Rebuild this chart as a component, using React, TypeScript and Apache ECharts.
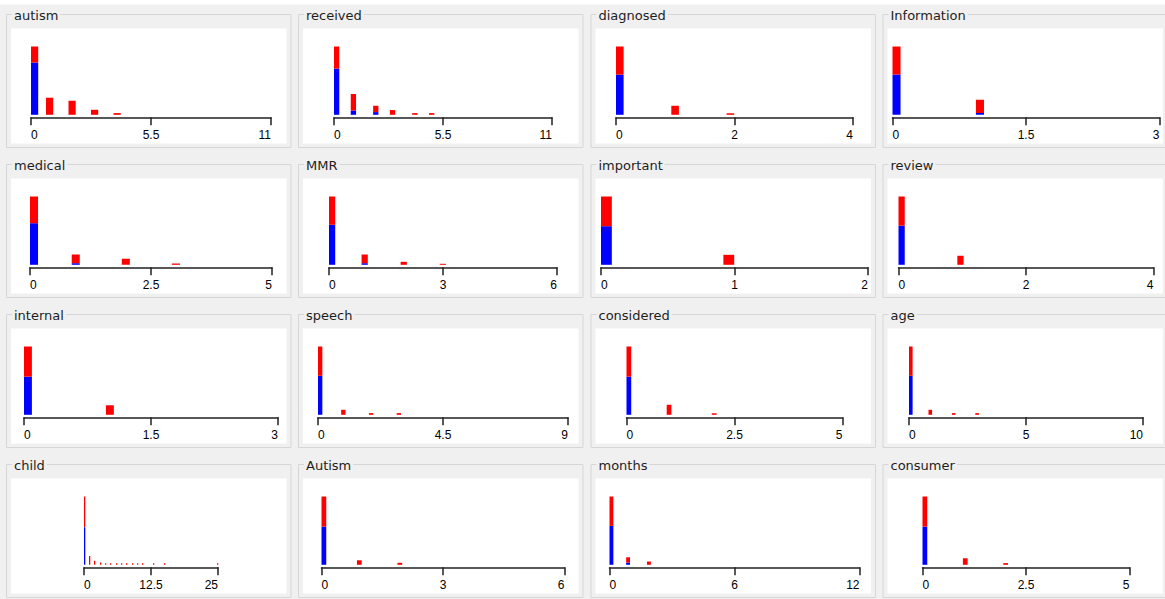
import React, { useEffect, useRef } from "react";
import * as echarts from "echarts";

// ---------- data (attribute histograms, counts per class: blue / red) ----------
const attributeNames = [
  "autism", "received", "diagnosed", "Information",
  "medical", "MMR", "important", "review",
  "internal", "speech", "considered", "age",
  "child", "Autism", "months", "consumer",
];
const axisMaxima = [11, 11, 4, 3, 5, 6, 2, 4, 3, 9, 5, 10, 25, 6, 12, 5];
const histogramBins = [32, 39, 30, 32, 29, 35, 24, 39, 31, 54, 43, 60, 134, 48, 60, 41];

const autismX = [0, 1, 2, 3, 4];
const autismBlue = [52, 0, 0, 0, 0];
const autismRed = [16, 17, 14, 5, 1.7];

const receivedX = [0, 1, 2, 3, 4, 5];
const receivedBlue = [46, 4.3, 2.7, 0, 0, 0];
const receivedRed = [22, 16.4, 6.3, 4.7, 1.7, 1.7];

const diagnosedX = [0, 1, 2];
const diagnosedBlue = [40, 0, 0];
const diagnosedRed = [28, 9, 1.5];

const informationX = [0, 1];
const informationBlue = [40, 1.7];
const informationRed = [28, 13.3];

const medicalX = [0, 1, 2, 3];
const medicalBlue = [41.6, 1.6, 0, 0];
const medicalRed = [26.7, 8.7, 6, 1.3];

const mmrX = [0, 1, 2, 3];
const mmrBlue = [40, 1.6, 0, 0];
const mmrRed = [28.3, 8.7, 3, 1];

const importantX = [0, 1];
const importantBlue = [38.6, 0];
const importantRed = [29.7, 10];

const reviewX = [0, 1];
const reviewBlue = [39, 0];
const reviewRed = [29, 9];

const internalX = [0, 1];
const internalBlue = [38, 0];
const internalRed = [30, 9.5];

const speechX = [0, 1, 2, 3];
const speechBlue = [39, 0, 0, 0];
const speechRed = [29.3, 5, 1.7, 1.7];

const consideredX = [0, 1, 2];
const consideredBlue = [38, 0, 0];
const consideredRed = [30, 10, 1.5];

const ageX = [0, 1, 2, 3];
const ageBlue = [39, 0, 0, 0];
const ageRed = [29.3, 5, 1.7, 1.7];

const childX = [0, 1, 2, 3, 4, 5, 6, 7, 8, 9, 10, 11, 13, 15, 25];
const childBlue = [38, 0, 0, 0, 0, 0, 0, 0, 0, 0, 0, 0, 0, 0, 0];
const childRed = [31, 9, 4, 2.3, 1.5, 1.5, 1.5, 1.5, 1.5, 1.5, 1.5, 1.5, 1.5, 1.5, 1.5];

const autismCapX = [0, 1, 2];
const autismCapBlue = [38, 0, 0];
const autismCapRed = [30, 4.5, 2];

const monthsX = [0, 1, 2];
const monthsBlue = [39.3, 2.3, 0];
const monthsRed = [29.7, 5.3, 3.3];

const consumerX = [0, 1, 2];
const consumerBlue = [38, 0, 0];
const consumerRed = [30, 6.5, 1.7];

const panelValues = [
  [autismX, autismBlue, autismRed],
  [receivedX, receivedBlue, receivedRed],
  [diagnosedX, diagnosedBlue, diagnosedRed],
  [informationX, informationBlue, informationRed],
  [medicalX, medicalBlue, medicalRed],
  [mmrX, mmrBlue, mmrRed],
  [importantX, importantBlue, importantRed],
  [reviewX, reviewBlue, reviewRed],
  [internalX, internalBlue, internalRed],
  [speechX, speechBlue, speechRed],
  [consideredX, consideredBlue, consideredRed],
  [ageX, ageBlue, ageRed],
  [childX, childBlue, childRed],
  [autismCapX, autismCapBlue, autismCapRed],
  [monthsX, monthsBlue, monthsRed],
  [consumerX, consumerBlue, consumerRed],
];

// ---------- layout ----------
const axisWidths = [240, 218, 237, 267, 242, 228, 267, 255, 254, 250, 216, 234, 134, 243, 250, 207];
const colAxisCenter = [151, 443, 734.5, 1026];
const colWhiteLeft = [11, 303, 595.5, 887.5];
const whiteWidth = 275.5;
const rowPitch = 150;
const BG = "#f0f0f0";

function makeRenderItem(max: number, bins: number) {
  const step = max / bins;
  return (params: any, api: any) => {
    const v = api.value(0);
    const b = api.value(1);
    const r = api.value(2);
    let k = Math.floor(v / step - 1e-9);
    if (k < 0) k = 0;
    if (k > bins - 1) k = bins - 1;
    const p0 = api.coord([k * step, 0]);
    const p1 = api.coord([(k + 1) * step, 0]);
    const yb = api.coord([0, b])[1];
    const yt = api.coord([0, b + r])[1];
    const base = p0[1];
    const w = Math.max(1.3, p1[0] - p0[0] - 0.3);
    const children: any[] = [];
    if (b > 0)
      children.push({
        type: "rect",
        shape: { x: p0[0], y: yb, width: w, height: base - yb },
        style: { fill: "#0000ff" },
      });
    if (r > 0)
      children.push({
        type: "rect",
        shape: { x: p0[0], y: yt, width: w, height: yb - yt },
        style: { fill: "#ff0000" },
      });
    return { type: "group", children };
  };
}

export default function App() {
  const ref = useRef<HTMLDivElement>(null);
  useEffect(() => {
    if (!ref.current) return;
    const chart = echarts.init(ref.current, undefined, { renderer: "svg" });
    const grids: any[] = [];
    const xAxes: any[] = [];
    const yAxes: any[] = [];
    const series: any[] = [];
    const graphics: any[] = [
      { type: "rect", z: 0, shape: { x: 0, y: 0, width: 1165, height: 4.5 }, style: { fill: "#ffffff" } },
    ];
    attributeNames.forEach((name, i) => {
      const col = i % 4;
      const row = Math.floor(i / 4);
      const oy = row * rowPitch;
      const [xs, blue, red] = panelValues[i];
      const totals = xs.map((_, j) => blue[j] + red[j]);
      const maxTotal = Math.max(...totals);
      const aw = axisWidths[i];
      const wl = colWhiteLeft[col];
      grids.push({
        left: colAxisCenter[col] - aw / 2,
        width: aw,
        top: 46.5 + oy,
        height: 68.3,
      });
      const M = axisMaxima[i];
      xAxes.push({
        gridIndex: i,
        type: "value",
        min: 0,
        max: M,
        interval: M / 2,
        offset: 2.5,
        z: 10,
        axisLine: { show: true, onZero: false, lineStyle: { color: "#222", width: 1.5 } },
        axisTick: { show: true, length: 8, lineStyle: { color: "#222", width: 1.5 } },
        axisLabel: {
          show: true,
          margin: 12,
          fontSize: 12,
          fontFamily: "Liberation Sans",
          color: "#000",
          showMinLabel: true,
          showMaxLabel: true,
          alignMinLabel: "left",
          alignMaxLabel: "right",
        },
        splitLine: { show: false },
      });
      yAxes.push({ gridIndex: i, type: "value", min: 0, max: maxTotal, show: false });
      series.push({
        type: "custom",
        xAxisIndex: i,
        yAxisIndex: i,
        z: 5,
        silent: true,
        renderItem: makeRenderItem(M, histogramBins[i]),
        data: xs.map((v, j) => [v, blue[j], red[j]]),
      });
      // group-box frame
      graphics.push({
        type: "rect",
        z: 1,
        silent: true,
        shape: { x: wl - 4.5, y: 14.5 + oy, width: whiteWidth + 9, height: 133 },
        style: { fill: "none", stroke: "#d6d6d6", lineWidth: 1 },
      });
      graphics.push({
        type: "rect",
        z: 1,
        silent: true,
        shape: { x: wl, y: 28.5 + oy, width: whiteWidth, height: 115 },
        style: { fill: "#ffffff" },
      });
      graphics.push({
        type: "text",
        z: 2,
        silent: true,
        x: wl + 1,
        y: 15.5 + oy,
        style: {
          text: name,
          fontFamily: "DejaVu Sans",
          fontSize: 13,
          fill: "#1e1e1e",
          verticalAlign: "middle",
          backgroundColor: BG,
          padding: [0, 2],
        },
      });
    });
    chart.setOption({
      animation: false,
      backgroundColor: BG,
      grid: grids,
      xAxis: xAxes,
      yAxis: yAxes,
      series,
      graphic: { elements: graphics },
    });
    return () => chart.dispose();
  }, []);
  return (
    <div
      ref={ref}
      style={{ position: "fixed", left: 0, top: 0, width: 1165, height: 599 }}
    />
  );
}
